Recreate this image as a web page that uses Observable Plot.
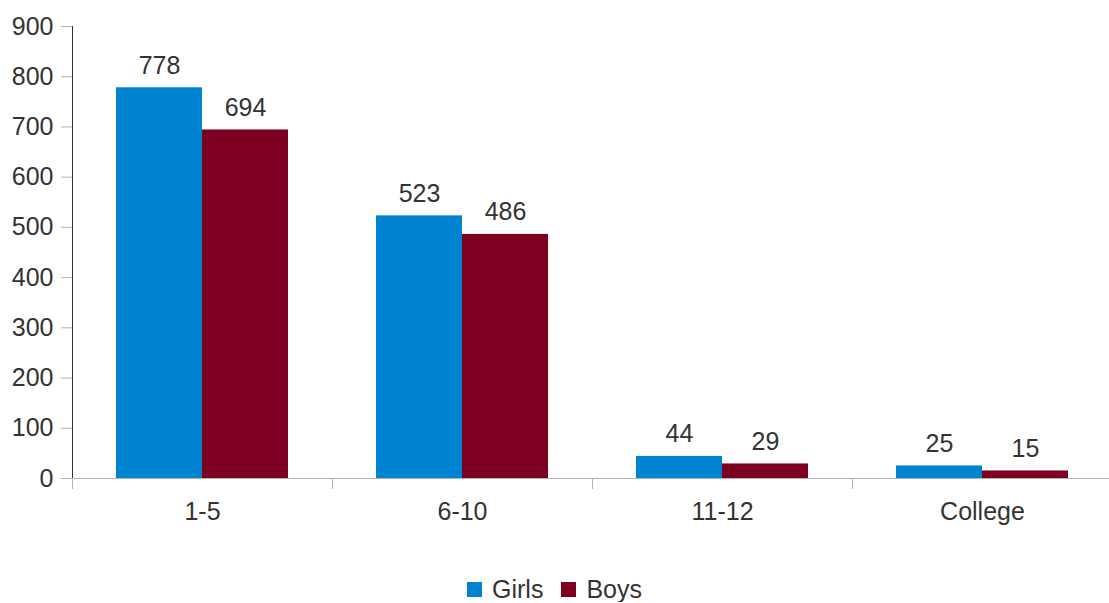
<!DOCTYPE html>
<html>
<head>
<meta charset="utf-8">
<script src="https://cdn.jsdelivr.net/npm/d3@7"></script>
<script src="https://cdn.jsdelivr.net/npm/@observablehq/plot@0.6"></script>
<style>
  html, body { margin: 0; padding: 0; background: #fff; overflow: hidden; }
  #chart svg { display: block; max-width: none !important; }
  #chart g[aria-label="y-axis tick"] path { stroke: #b3b3b3; }
  #chart g[aria-label="y-axis line"] line, #chart g[aria-label="y-axis line"] path { stroke: #b3b3b3; }
  .legend { display: flex; justify-content: center; align-items: center; margin-top: 32px;
    font: 25px "Liberation Sans", Arial, sans-serif; color: #333; line-height: 25px; width: 1109px; }
  .legend .item { display: flex; align-items: center; margin: 0 9px; }
  .legend .sw { width: 15px; height: 15px; margin-right: 10px; }
</style>
</head>
<body>
<div id="chart"></div>
<script>
const categories = ["1-5", "6-10", "11-12", "College"];
const series = ["Girls", "Boys"];
const girls = [778, 523, 44, 25];
const boys = [694, 486, 29, 15];
const colors = ["#0084d1", "#7e0021"];
const yTicks = [0, 100, 200, 300, 400, 500, 600, 700, 800, 900];

const data = [];
categories.forEach((c, i) => {
  data.push({cat: c, series: "Girls", value: girls[i]});
  data.push({cat: c, series: "Boys", value: boys[i]});
});

const chart = Plot.plot({
  width: 1113,
  height: 545,
  marginLeft: 71,
  marginRight: 0,
  marginTop: 26,
  marginBottom: 67,
  style: {fontSize: "25px", fontFamily: "'Liberation Sans', Arial, sans-serif", color: "#333", background: "#fff", maxWidth: "none"},
  fx: {domain: categories, padding: 0, paddingOuter: 0, label: null, tickSize: 0, tickPadding: 24},
  x: {domain: series, paddingInner: 0, paddingOuter: 0.5, axis: null},
  y: {domain: [0, 900], ticks: yTicks, tickSize: 11, tickPadding: 8, label: null, line: true},
  color: {domain: series, range: colors},
  marks: [
    Plot.barY(data, {fx: "cat", x: "series", y: "value", fill: "series"}),
    Plot.ruleY([0], {stroke: "#b3b3b3"}),
    Plot.frame({anchor: "left", stroke: "#b3b3b3", insetTop: 452, insetBottom: -10}),
    Plot.text(data, {fx: "cat", x: "series", y: "value", text: d => String(d.value), dy: -22, fill: "#333", fontSize: 25})
  ]
});
document.getElementById("chart").appendChild(chart);

const legend = document.createElement("div");
legend.className = "legend";
series.forEach((s, i) => {
  const item = document.createElement("div");
  item.className = "item";
  const sw = document.createElement("div");
  sw.className = "sw";
  sw.style.background = colors[i];
  const t = document.createElement("span");
  t.textContent = s;
  item.appendChild(sw);
  item.appendChild(t);
  legend.appendChild(item);
});
document.body.appendChild(legend);
</script>
</body>
</html>
